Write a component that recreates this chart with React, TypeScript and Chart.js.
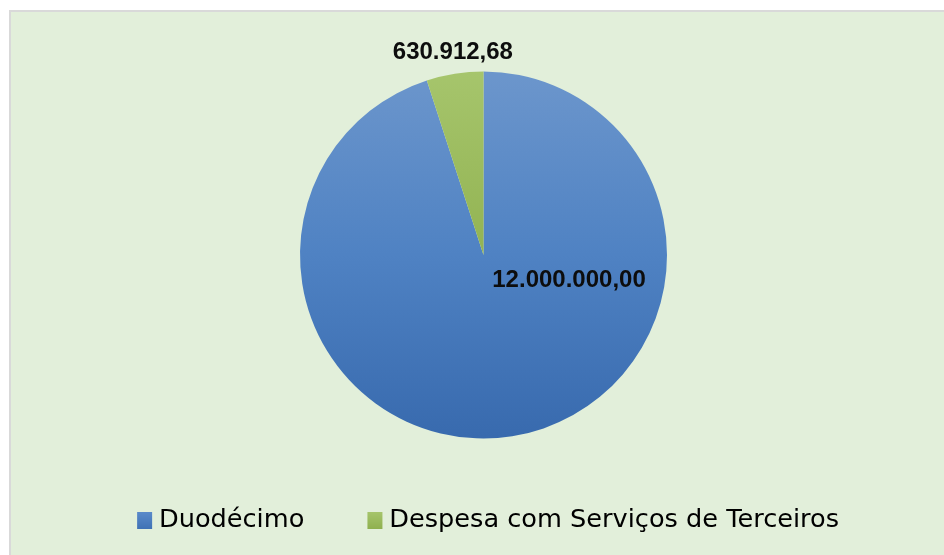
import React, { useEffect, useRef } from "react";
import { Chart, registerables } from "chart.js";

Chart.register(...registerables);

const categories = ["Duodécimo", "Despesa com Serviços de Terceiros"];
const values = [12000000.0, 630912.68];
const valueLabels = ["12.000.000,00", "630.912,68"];
const solidColors = ["#4F81C2", "#9BBB59"];
const gradientStops = [
  ["#6C96CC", "#4F82C3", "#386AAE"],
  ["#A6C56C", "#92B352", "#7C9C3C"],
];
const legendSwatchTop = ["#5A8ACA", "#A6C56C"];
const legendSwatchBottom = ["#3F72B5", "#8FB04F"];
const PIE_RADIUS = 183.5;

function makeGradient(chart: any, idx: number) {
  const { ctx, chartArea } = chart;
  if (!chartArea || !isFinite(chartArea.top) || !isFinite(chartArea.bottom)) return solidColors[idx];
  const cy = (chartArea.top + chartArea.bottom) / 2;
  const r = PIE_RADIUS;
  const g = ctx.createLinearGradient(0, cy - r, 0, cy + r);
  const s = gradientStops[idx];
  g.addColorStop(0, s[0]);
  g.addColorStop(0.5, s[1]);
  g.addColorStop(1, s[2]);
  return g;
}

// legend swatch: 15x17 square, drawn offset to the right inside a wider transparent canvas
function makeSwatch(idx: number) {
  const c = document.createElement("canvas");
  c.width = 32;
  c.height = 17;
  const x = c.getContext("2d")!;
  const g = x.createLinearGradient(0, 0, 0, 17);
  g.addColorStop(0, legendSwatchTop[idx]);
  g.addColorStop(1, legendSwatchBottom[idx]);
  x.fillStyle = g;
  x.fillRect(16, 0, 15, 17);
  return c;
}

const labelPlugin = {
  id: "valueLabels",
  afterDatasetsDraw(chart: any) {
    const { ctx } = chart;
    const meta = chart.getDatasetMeta(0);
    ctx.save();
    ctx.font = "bold 24px 'Liberation Sans', Arial, sans-serif";
    ctx.fillStyle = "#0D0D0D";
    ctx.textAlign = "center";
    ctx.textBaseline = "middle";
    meta.data.forEach((arc: any, i: number) => {
      const p = arc.getProps(["x", "y", "startAngle", "endAngle", "outerRadius"], true);
      let x: number, y: number;
      if (i === 0) {
        x = p.x + p.outerRadius * 0.466;
        y = p.y + p.outerRadius * 0.138;
      } else {
        const mid = (p.startAngle + p.endAngle) / 2;
        const rr = p.outerRadius + 22;
        x = p.x + Math.cos(mid) * rr + 1.5;
        y = p.y + Math.sin(mid) * rr;
      }
      ctx.fillText(valueLabels[i], x, y);
    });
    ctx.restore();
  },
};

export default function App() {
  const ref = useRef<HTMLCanvasElement | null>(null);
  useEffect(() => {
    if (!ref.current) return;
    const swatches = [makeSwatch(0), makeSwatch(1)];
    const chart = new Chart(ref.current, {
      type: "pie",
      data: {
        labels: categories,
        datasets: [
          {
            data: values,
            backgroundColor: (c: any) => makeGradient(c.chart, c.dataIndex),
            borderWidth: 0,
            radius: PIE_RADIUS,
          } as any,
        ],
      },
      options: {
        responsive: false,
        animation: false,
        layout: { padding: { top: 44.1, bottom: 11.5, left: 12, right: 0 } },
        plugins: {
          tooltip: { enabled: false },
          legend: {
            position: "bottom",
            labels: {
              usePointStyle: true,
              pointStyleWidth: 18.2,
              boxWidth: 18.2,
              boxHeight: 17,
              padding: 54,
              color: "#1A1A1A",
              font: { family: "'DejaVu Sans', sans-serif", size: 25.6 },
              generateLabels: () =>
                categories.map((t, i) => ({
                  text: t,
                  fillStyle: solidColors[i],
                  strokeStyle: solidColors[i],
                  lineWidth: 0,
                  pointStyle: swatches[i],
                  hidden: false,
                  index: i,
                })),
            },
          },
        },
      },
      plugins: [labelPlugin],
    });
    return () => chart.destroy();
  }, []);
  return (
    <div
      style={{
        position: "fixed",
        left: 9,
        top: 10,
        right: 0,
        bottom: 0,
        borderLeft: "2px solid #D9D9D9",
        borderTop: "2px solid #D9D9D9",
        borderRight: "none",
        borderBottom: "none",
        background: "#E2EFDA",
        overflow: "hidden",
      }}
    >
      <canvas ref={ref} width={933} height={543} style={{ display: "block" }} />
    </div>
  );
}
